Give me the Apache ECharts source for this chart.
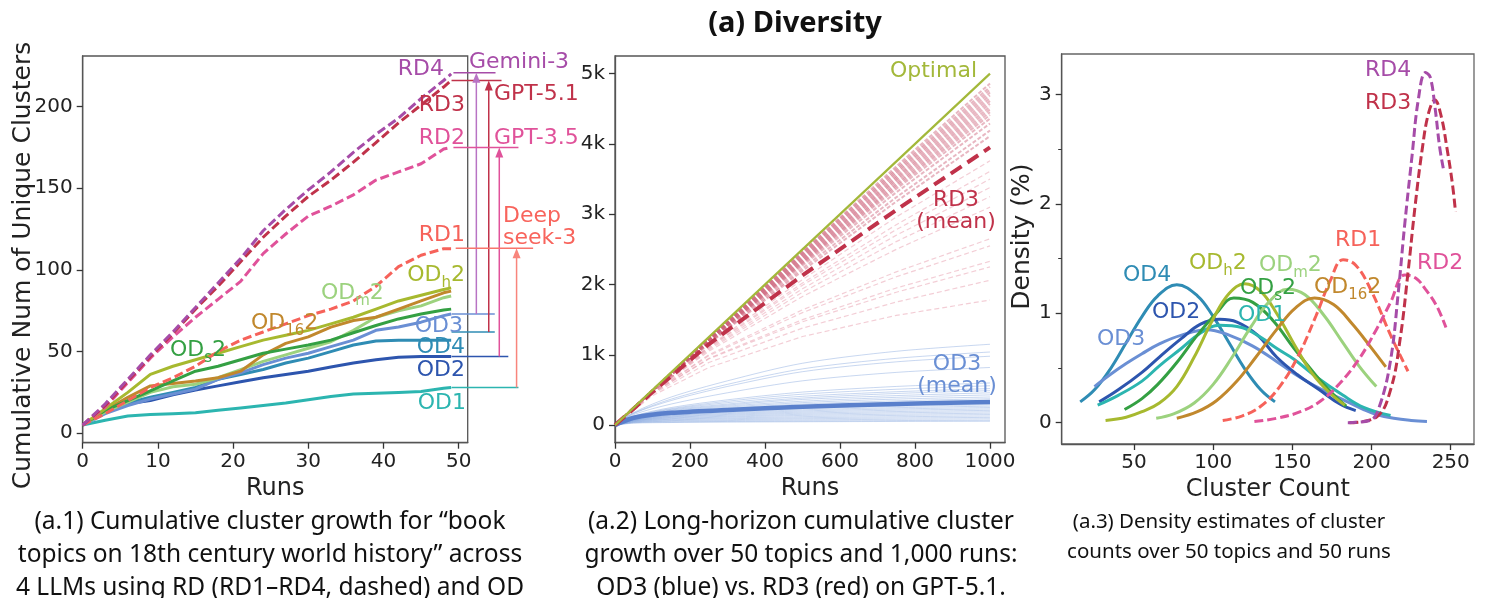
<!DOCTYPE html>
<html>
<head>
<meta charset="utf-8">
<script src="https://cdn.jsdelivr.net/npm/echarts@6/dist/echarts.min.js"></script>
<style>
  html, body { margin: 0; padding: 0; background: #fff; }
  #chart { width: 1488px; height: 598px; }
</style>
</head>
<body>
<div id="chart"></div>
<script>
// ---------- (a.1) cumulative clusters, 50 runs ----------
const runsA = [0, 3, 6, 9, 12, 15, 18, 21, 24, 27, 30, 33, 36, 39, 42, 45, 48, 49];
const rd4A  = [5, 18, 33, 48, 62, 77, 92, 107, 124, 137, 149, 160, 172, 183, 193, 205, 216, 220];
const rd3A  = [5, 17, 32, 47, 61, 76, 90, 105, 120, 133, 145, 155, 166, 178, 190, 201, 212, 216];
const rd2A  = [5, 16, 31, 46, 59, 71, 82, 93, 110, 122, 133, 139, 146, 155, 160, 165, 174, 175];
const rd1A  = [5, 12, 20, 28, 34, 41, 50, 57, 62, 67, 72, 76, 81, 90, 102, 109, 113, 113];
const odH2A = [5, 15, 25, 36, 41, 45, 49, 53, 57, 60, 63, 67, 71, 76, 81, 84.5, 88, 89];
const od16A = [5, 14, 22, 29, 30.5, 32, 34, 38, 48, 55, 59, 65, 69, 71, 76, 81, 86, 87];
const odM2A = [5, 13, 19, 25, 28.5, 30, 34, 39, 44, 48, 52, 56, 63, 71, 75, 78, 83, 84];
const odS2A = [5, 14, 20, 26, 32, 38, 41, 45, 49, 51.5, 54, 57, 61.5, 66, 70, 73, 75.5, 76];
const od3A  = [5, 12, 17, 21, 24, 27, 33, 37, 42, 46, 49, 53, 57, 63, 65, 68, 72, 73];
const od4A  = [5, 13, 18.5, 22, 25, 28, 33, 36, 39, 43, 46, 50, 54, 56.5, 57, 57, 57, 57];
const od2A  = [5, 13, 18, 20, 23.5, 26.5, 29, 31.5, 34, 36, 38, 40.5, 43, 45, 46.5, 47, 47, 47];
const od1A  = [5, 8, 10.5, 11.5, 12, 12.5, 14, 15.5, 17, 18.5, 20.5, 22.5, 24, 24.5, 25, 25.5, 27.5, 28];
// final levels marked by the arrows: Gemini-3, GPT-5.1, GPT-3.5, Deepseek-3 (RD) and OD3, OD4, OD2, OD1
const arrowTop    = [220.8, 216, 175, 113.3];
const arrowBottom = [73, 62, 47, 28];
const ticksAx = [0, 10, 20, 30, 40, 50];
const ticksAy = [0, 50, 100, 150, 200];

// ---------- (a.2) 1000 runs, 50 topics ----------
const runsRed = [0, 100, 250, 500, 750, 1000];
const redTopics = [
  [0, 498, 1245, 2475, 3680, 4860], [0, 497, 1240, 2460, 3650, 4810],
  [0, 496, 1235, 2445, 3625, 4770], [0, 495, 1230, 2430, 3600, 4730],
  [0, 495, 1225, 2415, 3575, 4690], [0, 494, 1220, 2400, 3545, 4650],
  [0, 494, 1215, 2385, 3520, 4610], [0, 493, 1210, 2370, 3495, 4570],
  [0, 492, 1205, 2355, 3470, 4530], [0, 492, 1200, 2340, 3440, 4490],
  [0, 491, 1195, 2325, 3415, 4450], [0, 490, 1190, 2310, 3390, 4410],
  [0, 489, 1185, 2295, 3360, 4360], [0, 488, 1175, 2270, 3310, 4290],
  [0, 486, 1165, 2230, 3240, 4190], [0, 485, 1155, 2195, 3180, 4110],
  [0, 480, 1120, 2070, 2960, 3760], [0, 478, 1110, 2020, 2850, 3610],
  [0, 476, 1100, 1990, 2780, 3500], [0, 474, 1085, 1940, 2700, 3380],
  [0, 472, 1070, 1890, 2610, 3250], [0, 470, 1050, 1830, 2500, 3100],
  [0, 465, 1000, 1640, 2180, 2650], [0, 462, 985, 1600, 2110, 2550],
  [0, 455, 950, 1500, 1950, 2330], [0, 452, 940, 1470, 1890, 2250],
  [0, 440, 890, 1380, 1750, 2060], [0, 420, 820, 1260, 1560, 1780]
];
const redMean = [0, 470, 1150, 2130, 3060, 3950];
const runsBlue = [0, 50, 150, 300, 500, 750, 1000];
const blueTopics = [
  [0, 180, 400, 630, 880, 1050, 1150], [0, 170, 370, 580, 800, 950, 1040],
  [0, 165, 350, 550, 760, 900, 980], [0, 150, 300, 460, 630, 750, 820],
  [0, 130, 250, 360, 470, 550, 600], [0, 125, 235, 340, 440, 510, 560],
  [0, 120, 225, 320, 410, 475, 520], [0, 115, 215, 300, 385, 450, 490],
  [0, 110, 205, 285, 365, 420, 460], [0, 105, 195, 270, 340, 395, 430],
  [0, 100, 185, 255, 320, 370, 400], [0, 97, 175, 240, 300, 345, 375],
  [0, 93, 165, 225, 280, 322, 350], [0, 90, 158, 212, 265, 305, 330],
  [0, 86, 150, 200, 250, 285, 310], [0, 83, 142, 188, 235, 267, 290],
  [0, 80, 135, 176, 218, 248, 270], [0, 76, 127, 164, 202, 230, 250],
  [0, 72, 118, 152, 186, 212, 230], [0, 68, 110, 140, 170, 193, 210],
  [0, 64, 101, 127, 154, 175, 190], [0, 60, 92, 115, 138, 156, 170],
  [0, 55, 83, 102, 121, 138, 150], [0, 50, 74, 90, 105, 119, 130],
  [0, 45, 64, 77, 90, 101, 110], [0, 40, 55, 65, 74, 83, 90],
  [0, 34, 45, 52, 59, 65, 70], [0, 28, 37, 43, 48, 52, 55]
];
const blueMean = [0, 105, 175, 215, 262, 300, 330];
const runsOptimal = [0, 1000];
const optimal = [0, 5000];
const ticksBx = [0, 200, 400, 600, 800, 1000];
const ticksBy = [0, 1000, 2000, 3000, 4000, 5000];
const ticksByLabels = ['0', '1k', '2k', '3k', '4k', '5k'];

// ---------- (a.3) density of cluster counts ----------
const densOD4 = [[16,0.19],[25,0.3],[35,0.49],[45,0.73],[55,0.97],[65,1.16],[77,1.26],[90,1.16],[100,0.97],[110,0.73],[120,0.49],[130,0.3],[139,0.19]];
const densOD3 = [[25,0.33],[35,0.44],[45,0.54],[55,0.63],[66,0.72],[80,0.8],[96,0.85],[110,0.8],[125,0.7],[140,0.56],[151,0.45],[165,0.33],[182,0.21],[195,0.12],[203,0.075],[214,0.04],[225,0.02],[235,0.01]];
const densOD2 = [[28,0.19],[40,0.3],[55,0.46],[66,0.6],[80,0.77],[92,0.9],[104,0.945],[115,0.92],[128,0.8],[140,0.6],[153,0.44],[167,0.3],[180,0.17],[190,0.11]];
const densOD1 = [[27,0.16],[40,0.25],[55,0.38],[66,0.52],[80,0.68],[92,0.82],[104,0.89],[118,0.87],[130,0.78],[140,0.68],[151,0.58],[165,0.42],[182,0.25],[195,0.14],[212,0.065]];
const densODs2 = [[44,0.12],[55,0.22],[65,0.35],[77,0.55],[90,0.8],[102,1.0],[113,1.14],[125,1.1],[138,0.93],[151,0.68],[165,0.43],[175,0.27],[184,0.15]];
const densODh2 = [[32,0.02],[45,0.05],[55,0.1],[66,0.18],[77,0.33],[88,0.6],[100,0.95],[110,1.18],[120,1.27],[130,1.2],[140,1.0],[151,0.72],[162,0.46],[173,0.28],[183,0.16]];
const densODm2 = [[64,0.04],[75,0.08],[88,0.18],[100,0.35],[112,0.6],[124,0.88],[135,1.1],[147,1.22],[158,1.17],[170,0.98],[181,0.75],[192,0.52],[203,0.33]];
const densOD16 = [[77,0.04],[90,0.1],[102,0.2],[115,0.38],[127,0.6],[140,0.85],[152,1.05],[164,1.14],[176,1.08],[188,0.9],[199,0.7],[209,0.51]];
const densRD1 = [[106,0.02],[118,0.06],[130,0.15],[142,0.33],[154,0.62],[165,0.98],[174,1.3],[182,1.49],[190,1.44],[200,1.2],[212,0.8],[223,0.47]];
const densRD2 = [[126,0.01],[140,0.04],[155,0.1],[168,0.2],[180,0.36],[192,0.58],[203,0.85],[212,1.1],[221,1.35],[228,1.32],[234,1.22],[241,1.07],[247,0.87]];
const densRD3 = [[186,0],[203,0.05],[212,0.3],[218,0.76],[223,1.37],[227.5,1.98],[232,2.5],[236,2.83],[240,2.95],[244,2.8],[247.5,2.52],[251,2.19],[253,1.93]];
const densRD4 = [[185,0],[199,0.02],[205,0.15],[212,0.57],[217,1.21],[221,1.82],[225.5,2.43],[229.5,2.95],[234,3.2],[237,3.16],[240,2.89],[243,2.52],[245.5,2.31]];
const ticksCx = [50, 100, 150, 200, 250];
const ticksCy = [0, 1, 2, 3];
const minorCy = [0.5, 1.5, 2.5];

// ---------- colours ----------
const C = {
  rd4: '#a64ca8', rd3: '#c0324a', rd2: '#e0529a', rd1: '#f6625a',
  od1: '#2cb5b0', od2: '#2d55ae', od3: '#6a8fd4', od4: '#2f8cb4',
  odS2: '#34a043', odH2: '#a7b92f', odM2: '#9cd27e', od16: '#c1882d',
  optimal: '#a3b83a'
};
const FONT = 'DejaVu Sans';
const DASH = [9, 4];

function pairs(xs, ys) { return xs.map((x, i) => [x, ys[i]]); }

function line(idx, data, color, width, dashed, extra) {
  return Object.assign({
    type: 'line', xAxisIndex: idx, yAxisIndex: idx, data: data,
    showSymbol: false, symbol: 'none', silent: true,
    lineStyle: { color: color, width: width, type: dashed ? DASH : 'solid' }
  }, extra || {});
}

function xAxis(idx, min, max, ticks, name) {
  return {
    type: 'value', gridIndex: idx, min: min, max: max,
    name: name, nameLocation: 'middle', nameGap: 31,
    nameTextStyle: { fontFamily: FONT, fontSize: 24, color: '#222' },
    axisLine: { onZero: false, lineStyle: { color: '#555', width: 1.3 } },
    axisTick: { customValues: ticks, length: 6, lineStyle: { color: '#333', width: 1.3 } },
    axisLabel: { customValues: ticks, margin: 9, fontFamily: FONT, fontSize: 20, color: '#222',
                 formatter: v => String(v) },
    splitLine: { show: false }
  };
}

function yAxis(grid, min, max, ticks, fmt) {
  return {
    type: 'value', gridIndex: grid, min: min, max: max, position: 'left',
    axisLine: { onZero: false, lineStyle: { color: '#555', width: 1.3 } },
    axisTick: { customValues: ticks, length: 6, lineStyle: { color: '#333', width: 1.3 } },
    axisLabel: { customValues: ticks, margin: 10, fontFamily: FONT, fontSize: 20, color: '#222',
                 formatter: fmt || (v => String(v)) },
    splitLine: { show: false }
  };
}

const series = [];

// (a.1) OD lines then RD dashed lines
[[od1A, C.od1], [od2A, C.od2], [od4A, C.od4], [od3A, C.od3], [odM2A, C.odM2],
 [od16A, C.od16], [odS2A, C.odS2], [odH2A, C.odH2]].forEach(([v, c]) => {
  series.push(line(0, pairs(runsA, v), c, 3, false));
});
[[rd1A, C.rd1], [rd2A, C.rd2], [rd3A, C.rd3], [rd4A, C.rd4]].forEach(([v, c]) => {
  series.push(line(0, pairs(runsA, v), c, 3, true));
});

// (a.2) per-topic lines: the crowded top band is drawn a little heavier
redTopics.forEach((v, i) => {
  const heavy = i < 16;
  const col = heavy ? 'rgba(205,95,120,0.45)' : 'rgba(222,120,140,0.36)';
  series.push(line(1, pairs(runsRed, v), col, 1, false,
    { lineStyle: { color: col, width: heavy ? 2 : 1.2, type: heavy ? [4, 2] : [5, 3] } }));
});
blueTopics.forEach(v => series.push(line(1, pairs(runsBlue, v), 'rgba(110,150,215,0.38)', 1, false, { smooth: 0.3 })));
series.push(line(1, pairs(runsBlue, blueMean), '#5a80cc', 4.5, false, { smooth: 0.3 }));
series.push(line(1, pairs(runsRed, redMean), C.rd3, 4, false,
  { lineStyle: { color: C.rd3, width: 4, type: [13, 7] } }));
series.push(line(1, pairs(runsOptimal, optimal), C.optimal, 2.2, false));

// (a.3)
[[densOD4, C.od4], [densOD3, C.od3], [densOD2, C.od2], [densOD1, C.od1], [densODs2, C.odS2],
 [densODh2, C.odH2], [densODm2, C.odM2], [densOD16, C.od16]].forEach(([d, c]) => {
  series.push(line(2, d, c, 3, false, { smooth: 0.4 }));
});
[[densRD1, C.rd1], [densRD2, C.rd2], [densRD3, C.rd3], [densRD4, C.rd4]].forEach(([d, c]) => {
  series.push(line(2, d, c, 3, true, { smooth: 0.4 }));
});

// ---------- text labels (pixel layout) ----------
const labels = [
  // (a.1)
  ['RD4', '', '', 444, 69, C.rd4, 'right'], ['RD3', '', '', 465, 105, C.rd3, 'right'],
  ['RD2', '', '', 465, 138, C.rd2, 'right'], ['RD1', '', '', 465, 235, C.rd1, 'right'],
  ['Gemini-3', '', '', 469, 62, C.rd4, 'left'], ['GPT-5.1', '', '', 494, 94, C.rd3, 'left'],
  ['GPT-3.5', '', '', 494, 138, C.rd2, 'left'], ['Deep\nseek-3', '', '', 503, 227, '#f8645c', 'left'],
  ['OD', 'h', '2', 465, 275, C.odH2, 'right'], ['OD', 'm', '2', 321, 293, C.odM2, 'left'],
  ['OD', '16', '2', 251, 323, C.od16, 'left'], ['OD', 's', '2', 170, 350, C.odS2, 'left'],
  ['OD3', '', '', 463, 326, C.od3, 'right'], ['OD4', '', '', 465, 347, C.od4, 'right'],
  ['OD2', '', '', 465, 370, C.od2, 'right'], ['OD1', '', '', 466, 403, C.od1, 'right'],
  // (a.2)
  ['Optimal', '', '', 977, 71, C.optimal, 'right'],
  ['RD3\n(mean)', '', '', 956, 211, C.rd3, 'center'],
  ['OD3\n(mean)', '', '', 957, 375, C.od3, 'center'],
  // (a.3)
  ['RD4', '', '', 1365, 70, C.rd4, 'left'], ['RD3', '', '', 1365, 103, C.rd3, 'left'],
  ['RD1', '', '', 1335, 240, C.rd1, 'left'], ['RD2', '', '', 1417, 263, C.rd2, 'left'],
  ['OD', 'h', '2', 1189, 263, C.odH2, 'left'], ['OD', 'm', '2', 1259, 265, C.odM2, 'left'],
  ['OD4', '', '', 1123, 275, C.od4, 'left'], ['OD', 's', '2', 1240, 288, C.odS2, 'left'],
  ['OD', '16', '2', 1314, 287, C.od16, 'left'], ['OD2', '', '', 1152, 312, C.od2, 'left'],
  ['OD1', '', '', 1238, 315, C.od1, 'left'], ['OD3', '', '', 1097, 339, C.od3, 'left']
];

const graphic = labels.map(([t, s, e, x, y, c, a]) => {
  const style = { fill: c, fontFamily: FONT, fontSize: 22, align: a, textAlign: a,
                  verticalAlign: 'middle', textVerticalAlign: 'middle', lineHeight: 22 };
  if (s) {
    style.text = '{m|' + t + '}{s|' + s + '}{m|' + e + '}';
    style.rich = {
      m: { fill: c, fontFamily: FONT, fontSize: 22, lineHeight: 22 },
      s: { fill: c, fontFamily: FONT, fontSize: 15, lineHeight: 15, padding: [17, 0, 0, 0] }
    };
  } else {
    style.text = t;
  }
  return { type: 'text', x: x, y: y, silent: true, z: 100, style: style };
});

// rotated y-axis titles
[['Cumulative Num of Unique Clusters', 23, 265.5], ['Density (%)', 1022.5, 236.5]].forEach(([t, x, y]) => {
  graphic.push({ type: 'text', x: x, y: y, rotation: Math.PI / 2, silent: true, z: 100,
    style: { text: t, fill: '#222', fontFamily: FONT, fontSize: 25, align: 'center', textAlign: 'center',
             verticalAlign: 'middle', textVerticalAlign: 'middle' } });
});

// title and captions
const captions = [
  ['(a) Diversity', 795, 24, 'bold', 29, 33.3],
  ['(a.1) Cumulative cluster growth for \u201cbook\ntopics on 18th century world history\u201d across\n4 LLMs using RD (RD1\u2013RD4, dashed) and OD', 270, 555, 'normal', 24.5, 33.3],
  ['(a.2) Long-horizon cumulative cluster\ngrowth over 50 topics and 1,000 runs:\nOD3 (blue) vs. RD3 (red) on GPT-5.1.', 801, 555, 'normal', 24.5, 33.3],
  ['(a.3) Density estimates of cluster\ncounts over 50 topics and 50 runs', 1229, 537, 'normal', 20.5, 30]
];
captions.forEach(([t, x, y, w, fs, lh]) => {
  graphic.push({ type: 'text', x: x, y: y, silent: true, z: 100,
    style: { text: t, fill: '#111', fontFamily: 'Noto Sans', fontWeight: w, fontSize: fs,
             lineHeight: lh, align: 'center', textAlign: 'center',
             verticalAlign: 'middle', textVerticalAlign: 'middle' } });
});

const option = {
  animation: false,
  backgroundColor: '#fff',
  textStyle: { fontFamily: FONT },
  grid: [
    { left: 82.7, top: 56, width: 385, height: 386.7, show: true, borderColor: '#555', borderWidth: 1.3 },
    { left: 615, top: 56, width: 390, height: 386.7, show: true, borderColor: '#555', borderWidth: 1.3 },
    { left: 1061.7, top: 54, width: 412.3, height: 390, show: true, borderColor: '#666', borderWidth: 1.3 }
  ],
  xAxis: [
    xAxis(0, 0, 51.2, ticksAx, 'Runs'),
    xAxis(1, 0, 1040, ticksBx, 'Runs'),
    xAxis(2, 4.3, 264.7, ticksCx, 'Cluster Count')
  ],
  yAxis: [
    yAxis(0, -5.8, 231, ticksAy),
    yAxis(1, -250, 5250, ticksBy, v => ticksByLabels[ticksBy.indexOf(v)]),
    yAxis(2, -0.195, 3.37, ticksCy),
    {
      type: 'value', gridIndex: 2, min: -0.195, max: 3.37, position: 'left',
      axisLine: { show: false },
      axisTick: { customValues: minorCy, length: 3.5, lineStyle: { color: '#333', width: 1 } },
      axisLabel: { show: false }, splitLine: { show: false }
    }
  ],
  graphic: graphic,
  series: series
};

const chart = echarts.init(document.getElementById('chart'));
chart.setOption(option);

// (a.1) arrows drawn outside the axes box, placed through the left grid's scales (x in run units)
const arrowLayout = [
  { top: [49.3, 54.9], bottom: [49.05, 54.8], x: 52.35, cTop: C.rd4, cBot: C.od3, cArrow: '#b873c4' },
  { top: [49.05, 55.7], bottom: [49.05, 54.8], x: 54.0, cTop: C.rd3, cBot: C.od4, cArrow: C.rd3 },
  { top: [49.3, 57.95], bottom: [49.05, 56.6], x: 55.4, cTop: C.rd2, cBot: C.od2, cArrow: C.rd2 },
  { top: [49.6, 59.9], bottom: [49.05, 57.95], x: 57.7, cTop: '#f8756c', cBot: C.od1, cArrow: '#f8857c' }
];
const px = (x, y) => chart.convertToPixel({ xAxisIndex: 0, yAxisIndex: 0 }, [x, y]);
const arrows = [];
function seg(p, q, color) {
  arrows.push({ type: 'line', silent: true, z: 90,
    shape: { x1: p[0], y1: p[1], x2: q[0], y2: q[1] },
    style: { stroke: color, lineWidth: 1.5 } });
}
arrowLayout.forEach((a, i) => {
  const hi = arrowTop[i], lo = arrowBottom[i];
  seg(px(a.top[0], hi), px(a.top[1], hi), a.cTop);
  seg(px(a.bottom[0], lo), px(a.bottom[1], lo), a.cBot);
  const b = px(a.x, lo), t = px(a.x, hi);
  seg(b, [t[0], t[1] + 8], a.cArrow);
  arrows.push({ type: 'polygon', silent: true, z: 91,
    shape: { points: [[t[0], t[1]], [t[0] - 4, t[1] + 10], [t[0] + 4, t[1] + 10]] },
    style: { fill: a.cArrow } });
});
chart.setOption({ graphic: graphic.concat(arrows) });
</script>
</body>
</html>
